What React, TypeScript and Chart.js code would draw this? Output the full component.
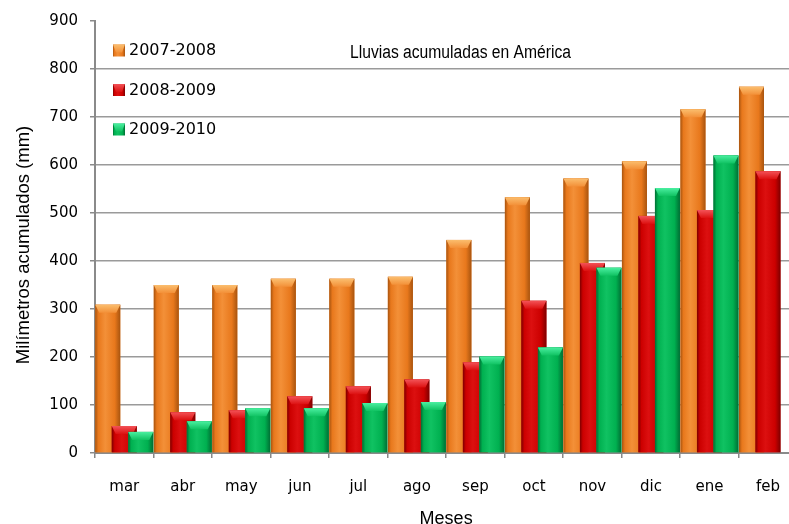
import React, { useEffect, useRef } from 'react';
import { Chart, registerables } from 'chart.js';

Chart.register(...registerables);

const categories = ['mar', 'abr', 'may', 'jun', 'jul', 'ago', 'sep', 'oct', 'nov', 'dic', 'ene', 'feb'];
const seriesNames = ['2007-2008', '2008-2009', '2009-2010'];
const s20072008 = [309, 350, 350, 363, 363, 367, 444, 533, 572, 608, 716, 763];
const s20082009 = [56, 85, 89, 118, 139, 153, 189, 317, 396, 494, 506, 587];
const s20092010 = [44, 66, 93, 93, 104, 106, 201, 220, 386, 552, 620, null];
const yMin = 0;
const yMax = 900;
const yStep = 100;
const chartTitle = 'Lluvias acumuladas en América';
const xTitle = 'Meses';
const yTitle = 'Milímetros acumulados (mm)';

const PAL = [
  { base: '#E8781C', light: '#F39038', dark: '#A8540F', cap: '#FBBE6E' },
  { base: '#CC0000', light: '#DC1010', dark: '#7E0000', cap: '#F35257' },
  { base: '#00B050', light: '#10C262', dark: '#006E34', cap: '#4AEFA0' },
];

function paintBar(ctx: CanvasRenderingContext2D, l: number, top: number, w: number, h: number, pal: any) {
  if (h <= 0) return;
  const g = ctx.createLinearGradient(l, 0, l + w, 0);
  g.addColorStop(0, pal.dark);
  g.addColorStop(0.12, pal.base);
  g.addColorStop(0.4, pal.light);
  g.addColorStop(0.78, pal.base);
  g.addColorStop(1, pal.dark);
  ctx.fillStyle = g;
  ctx.fillRect(l, top, w, h);
  const capH = Math.min(8, h);
  const inset = Math.min(4, w / 4);
  ctx.beginPath();
  ctx.moveTo(l, top);
  ctx.lineTo(l + w, top);
  ctx.lineTo(l + w - inset, top + capH);
  ctx.lineTo(l + inset, top + capH);
  ctx.closePath();
  const cg = ctx.createLinearGradient(0, top, 0, top + capH);
  cg.addColorStop(0, pal.cap);
  cg.addColorStop(1, pal.light);
  ctx.fillStyle = cg;
  ctx.fill();
}

const barPainter = {
  id: 'barPainter',
  beforeDatasetsDraw(chart: any) {
    const ctx = chart.ctx;
    ctx.save();
    chart.data.datasets.forEach((ds: any, di: number) => {
      const meta = chart.getDatasetMeta(di);
      if (meta.hidden) return;
      meta.data.forEach((el: any, i: number) => {
        if (ds.data[i] == null) return;
        el.draw(ctx, chart.chartArea);
        const { x, y, base, width } = el.getProps(['x', 'y', 'base', 'width'], true);
        paintBar(ctx, x - width / 2, y, width, base - y, PAL[di]);
      });
    });
    ctx.restore();
    return false;
  },
  afterDraw(chart: any) {
    const ctx = chart.ctx;
    ctx.save();
    // legend
    const lx = 113;
    const rows = [50.5, 90, 129.5];
    seriesNames.forEach((name, i) => {
      paintBar(ctx, lx, rows[i] - 6, 12, 12, PAL[i]);
      ctx.fillStyle = '#000';
      ctx.font = '16px "DejaVu Sans"';
      ctx.textBaseline = 'middle';
      ctx.textAlign = 'left';
      ctx.fillText(name, 129, rows[i] + 0.5);
    });
    // chart title
    ctx.font = '18px "Liberation Sans"';
    ctx.textBaseline = 'alphabetic';
    ctx.textAlign = 'left';
    ctx.fillText(chartTitle, 350, 58, 221);
    // y axis title
    ctx.translate(24, 245);
    ctx.rotate(-Math.PI / 2);
    ctx.font = '18.5px "Liberation Sans"';
    ctx.textAlign = 'center';
    ctx.textBaseline = 'middle';
    ctx.fillText(yTitle, 0, 0);
    ctx.restore();
  },
};

export default function App() {
  const ref = useRef<HTMLCanvasElement>(null);
  useEffect(() => {
    if (!ref.current) return;
    const chart = new Chart(ref.current, {
      type: 'bar',
      data: {
        labels: categories,
        datasets: [
          { label: seriesNames[0], data: s20072008, backgroundColor: PAL[0].base },
          { label: seriesNames[1], data: s20082009, backgroundColor: PAL[1].base },
          { label: seriesNames[2], data: s20092010 as any, backgroundColor: PAL[2].base },
        ],
      },
      options: {
        responsive: false,
        animation: false,
        devicePixelRatio: 1,
        layout: { padding: { top: 19, left: 0, right: 0, bottom: 0 } },
        datasets: { bar: { categoryPercentage: 0.846, barPercentage: 1.515 } },
        plugins: {
          legend: { display: false },
          tooltip: { enabled: false },
          title: { display: false },
        },
        scales: {
          x: {
            grid: {
              display: true,
              drawOnChartArea: false,
              drawTicks: true,
              tickLength: 5,
              offset: true,
              color: '#888',
              tickColor: '#888',
              lineWidth: 1.5,
            },
            border: { display: true, color: '#8a8a8a', width: 2 },
            ticks: { color: '#000', font: { family: 'DejaVu Sans', size: 15 }, padding: 20 },
            title: {
              display: true,
              text: xTitle,
              color: '#000',
              font: { family: 'Liberation Sans', size: 18 },
              padding: { top: 0, bottom: 0 },
            },
            afterFit: (scale: any) => {
              scale.height = 77;
            },
          },
          y: {
            min: yMin,
            max: yMax,
            ticks: {
              stepSize: yStep,
              color: '#000',
              font: { family: 'DejaVu Sans', size: 15 },
              padding: 12,
            },
            grid: {
              color: (c: any) => (c.tick && c.tick.value === yMax ? 'rgba(0,0,0,0)' : '#9a9a9a'),
              tickColor: '#8a8a8a',
              lineWidth: 1.5,
              tickLength: 5,
            },
            border: { display: true, color: '#8a8a8a', width: 2 },
            title: { display: false, text: yTitle },
            afterFit: (scale: any) => {
              scale.width = 95;
            },
          },
        },
      },
      plugins: [barPainter],
    });
    return () => chart.destroy();
  }, []);
  return (
    <div style={{ position: 'fixed', left: 0, top: 0, width: 789, height: 524, overflow: 'hidden', background: '#fff' }}>
      <canvas ref={ref} width={800} height={530} style={{ display: 'block', width: 800, height: 530 }} />
    </div>
  );
}
